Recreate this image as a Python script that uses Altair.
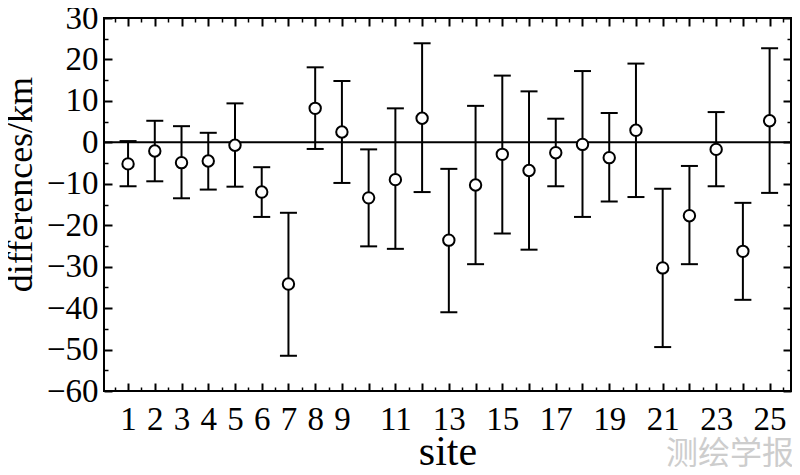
import altair as alt
import pandas as pd

# ---- data ----
sites = list(range(1, 26))
diff = [-5.2, -2.1, -4.9, -4.5, -0.7, -12.0, -34.2, 8.2, 2.5, -13.4, -9.0, 5.8,
        -23.6, -10.3, -2.9, -6.8, -2.5, -0.5, -3.7, 2.9, -30.3, -17.7, -1.7, -26.3, 5.2]
upper = [0.3, 5.2, 3.9, 2.3, 9.4, -6.0, -17.0, 18.1, 14.8, -1.7, 8.2, 23.9,
         -6.4, 8.8, 16.1, 12.3, 5.7, 17.2, 7.1, 19.0, -11.2, -5.7, 7.3, -14.6, 22.7]
lower = [-10.6, -9.4, -13.5, -11.4, -10.7, -18.0, -51.5, -1.6, -9.8, -25.1, -25.7, -12.0,
         -41.0, -29.4, -22.0, -25.9, -10.6, -18.0, -14.3, -13.2, -49.4, -29.4, -10.6, -38.0, -12.2]

x_major = list(range(1, 26))
x_minor = [i + 0.5 for i in range(0, 26)]
x_labels = [1, 2, 3, 4, 5, 6, 7, 8, 9, 11, 13, 15, 17, 19, 21, 23, 25]
y_major = list(range(-60, 31, 10))
y_minor = list(range(-55, 30, 10))
x_title = "site"
y_title = "differences/km"
watermark = ["测绘学报"]

df = pd.DataFrame({"site": sites, "diff": diff, "upper": upper, "lower": lower})

W, H = 687, 373
FONT = "Liberation Serif"
xs = alt.Scale(domain=[0.1, 25.8], nice=False, zero=False)
ys = alt.Scale(domain=[-60, 30], nice=False, zero=False)

label_expr = ("indexof([" + ",".join(str(v) for v in x_labels) +
              "], datum.value) >= 0 ? datum.label : ''")

# label axes (no ticks)
ax_x_main = alt.Axis(orient="bottom", values=x_labels, ticks=False, tickSize=0,
                     labelFlush=False, labelOverlap=False,
                     labelPadding=12, labelFontSize=33, title=x_title, titleFontSize=42,
                     titleY=73, titleBaseline="alphabetic")
ax_y_main = alt.Axis(orient="left", values=y_major, ticks=False, tickSize=0,
                     labelPadding=6, labelFontSize=33, labelFlush=False, labelOverlap=False,
                     title=y_title, titleFontSize=36, titleAngle=270, titleX=-73, titleY=166,
                     titleBaseline="alphabetic", titleAlign="center")


# tick-only axes pointing into the plot: an axis of the opposite side moved across the plot
def tick_axis(orient, values, size, width, offset):
    return alt.Axis(orient=orient, values=values, tickSize=size, tickWidth=width,
                    labels=False, title=None, offset=offset, domain=False)


base = alt.Chart(df)

zero = alt.Chart(pd.DataFrame({"z": [0]})).mark_rule(color="black", strokeWidth=2).encode(
    y=alt.Y("z:Q", scale=ys, axis=None)
)

bars = base.mark_rule(color="black", strokeWidth=2).encode(
    x=alt.X("site:Q", scale=xs, axis=None),
    y=alt.Y("lower:Q", scale=ys, axis=None),
    y2="upper:Q",
)
cap_hi = base.mark_tick(orient="horizontal", size=17, thickness=2, color="black", opacity=1).encode(
    x=alt.X("site:Q", scale=xs, axis=None),
    y=alt.Y("upper:Q", scale=ys, axis=None),
)
cap_lo = base.mark_tick(orient="horizontal", size=17, thickness=2, color="black", opacity=1).encode(
    x=alt.X("site:Q", scale=xs, axis=None),
    y=alt.Y("lower:Q", scale=ys, axis=None),
)

# bottom & left inward ticks
t_bl_major = base.mark_point(opacity=0).encode(
    x=alt.X("site:Q", scale=xs, axis=tick_axis("top", x_major, 8, 2, -H)),
    y=alt.Y("diff:Q", scale=ys, axis=tick_axis("right", y_major, 8, 2, -W)),
)
t_bl_minor = base.mark_point(opacity=0).encode(
    x=alt.X("site:Q", scale=xs, axis=tick_axis("top", x_minor, 4, 1.5, -H)),
    y=alt.Y("diff:Q", scale=ys, axis=tick_axis("right", y_minor, 4, 1.5, -W)),
)
# top & right inward ticks
t_tr_major = base.mark_point(opacity=0).encode(
    x=alt.X("site:Q", scale=xs, axis=tick_axis("bottom", x_major, 8, 2, -H)),
    y=alt.Y("diff:Q", scale=ys, axis=tick_axis("left", y_major, 8, 2, -W)),
)
t_tr_minor = base.mark_point(opacity=0).encode(
    x=alt.X("site:Q", scale=xs, axis=tick_axis("bottom", x_minor, 4, 1.5, -H)),
    y=alt.Y("diff:Q", scale=ys, axis=tick_axis("left", y_minor, 4, 1.5, -W)),
)

points = base.mark_point(shape="circle", filled=True, fill="white", stroke="black",
                         strokeWidth=2, size=130, opacity=1).encode(
    x=alt.X("site:Q", scale=xs, axis=ax_x_main),
    y=alt.Y("diff:Q", scale=ys, axis=ax_y_main),
)

wm = alt.Chart(pd.DataFrame({"t": watermark})).mark_text(
    font="Noto Sans CJK SC", fontSize=32, color="#cdcdcd", align="center", baseline="middle"
).encode(text="t:N", x=alt.value(626), y=alt.value(436))

chart = alt.layer(zero, bars, cap_hi, cap_lo, t_bl_major, t_bl_minor, t_tr_major, t_tr_minor,
                  points, wm).resolve_axis(
    x="independent", y="independent"
).properties(
    width=W, height=H,
    autosize=alt.AutoSizeParams(type="none"),
    padding={"left": 96, "top": 10, "right": 1, "bottom": 76},
).configure_view(
    stroke="black", strokeWidth=2
).configure_axis(
    labelFont=FONT, titleFont=FONT, labelColor="black", titleColor="black",
    tickColor="black", grid=False, domain=False, titleFontWeight="normal",
)

chart.save("out.html", embed_options={"renderer": "svg", "actions": False})
